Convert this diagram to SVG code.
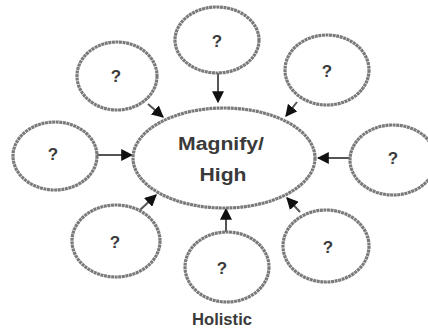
<svg xmlns="http://www.w3.org/2000/svg" width="428" height="335" viewBox="0 0 428 335">
<defs>
<style>
.n{fill:#fff;stroke:#7a7a7a;stroke-width:3.2;stroke-dasharray:3 0.6}
.t{font-family:"Liberation Sans",Arial,sans-serif;font-weight:bold;fill:#3a3a3a;text-anchor:middle}
.q{font-size:17px}
.c{stroke:#555;stroke-width:2;fill:none}
</style>
<marker id="ah" viewBox="0 0 10 10" refX="9" refY="5" markerWidth="6" markerHeight="6" orient="auto" markerUnits="strokeWidth">
<path d="M0,0 L10,5 L0,10 z" fill="#111"/>
</marker>
</defs>
<rect width="428" height="335" fill="#fff"/>
<g id="connectors">
<line class="c" x1="218" y1="73" x2="218" y2="102" marker-end="url(#ah)"/>
<line class="c" x1="148" y1="104" x2="163" y2="117" marker-end="url(#ah)"/>
<line class="c" x1="297" y1="102" x2="286" y2="116" marker-end="url(#ah)"/>
<line class="c" x1="97" y1="155" x2="132" y2="155" marker-end="url(#ah)"/>
<line class="c" x1="350" y1="158" x2="318" y2="158" marker-end="url(#ah)"/>
<line class="c" x1="140" y1="210" x2="156" y2="195" marker-end="url(#ah)"/>
<line class="c" x1="300" y1="212" x2="287" y2="198" marker-end="url(#ah)"/>
<line class="c" x1="226" y1="232" x2="226" y2="209" marker-end="url(#ah)"/>
</g>
<g id="center">
<ellipse class="n" cx="224" cy="158" rx="91" ry="50"/>
<text class="t" x="221" y="150" font-size="18" textLength="86" lengthAdjust="spacingAndGlyphs">Magnify/</text>
<text class="t" x="223" y="181" font-size="18" textLength="47" lengthAdjust="spacingAndGlyphs">High</text>
</g>
<g id="top"><ellipse class="n" cx="217" cy="40" rx="42" ry="33"/><text class="t q" x="217" y="47">?</text></g>
<g id="topleft"><ellipse class="n" cx="117" cy="76" rx="40" ry="34"/><text class="t q" x="116" y="82">?</text></g>
<g id="topright"><ellipse class="n" cx="327" cy="70" rx="42" ry="35"/><text class="t q" x="327" y="77">?</text></g>
<g id="left"><ellipse class="n" cx="55" cy="156" rx="42" ry="34"/><text class="t q" x="53" y="160">?</text></g>
<g id="right"><ellipse class="n" cx="393" cy="160" rx="43" ry="35"/><text class="t q" x="393" y="164">?</text></g>
<g id="bottomleft"><ellipse class="n" cx="116" cy="241" rx="44" ry="36"/><text class="t q" x="115" y="248">?</text></g>
<g id="bottomright"><ellipse class="n" cx="326" cy="246" rx="43" ry="36"/><text class="t q" x="328" y="253">?</text></g>
<g id="bottom"><ellipse class="n" cx="227" cy="267" rx="42" ry="35"/><text class="t q" x="222" y="274">?</text>
<text class="t" x="222" y="325" font-size="17" textLength="60" lengthAdjust="spacingAndGlyphs">Holistic</text></g>
</svg>
